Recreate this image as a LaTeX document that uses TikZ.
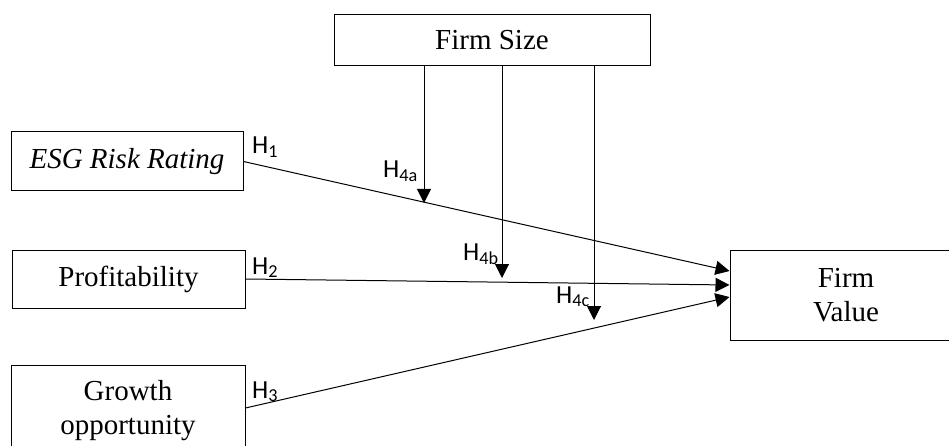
\documentclass[tikz,border=0pt]{standalone}
\usepackage{fontspec}
\setmainfont{Liberation Serif}
\newfontfamily\hfont{Carlito}
\usetikzlibrary{arrows.meta}
\begin{document}
\begin{tikzpicture}[x=1pt,y=-1pt,
  box/.style={draw,line width=1pt,inner sep=0pt,align=center,font=\fontsize{29}{34}\selectfont},
  link/.style={line width=1pt,-{Triangle[width=14pt,length=14pt]}},
  hlab/.style={anchor=base west,inner sep=0pt,font=\hfont\fontsize{26}{26}\selectfont}]
\useasboundingbox (0,0) rectangle (949,446);
\node[box,minimum width=232pt,minimum height=59pt] (esg) at (127,161.5) {\itshape ESG Risk Rating};
\node[box,minimum width=233pt,minimum height=58pt] (prof) at (128.5,279) {Profitability};
\node[box,minimum width=234pt,minimum height=92pt] (grow) at (128,411) {Growth\\opportunity};
\node[box,minimum width=316pt,minimum height=51pt] (fs) at (492,40.5) {Firm Size};
\node[box,minimum width=232pt,minimum height=90pt] (fv) at (846,295) {Firm\\Value};
\coordinate (t4a) at (424,203);
\coordinate (t4b) at (502,278);
\coordinate (t4c) at (594,320);
\draw[link] (esg.east) -- ([yshift=24pt]fv.west);
\draw[link] (prof.east) -- ([yshift=10pt]fv.west);
\draw[link] ([yshift=3pt]grow.east) -- ([yshift=-2pt]fv.west);
\draw[link] (t4a |- fs.south) -- (t4a);
\draw[link] (t4b |- fs.south) -- (t4b);
\draw[link] (t4c |- fs.south) -- (t4c);
\node[hlab] (h1) at (252,154) {H\textsubscript{1}};
\node[hlab] (h2) at (252,274) {H\textsubscript{2}};
\node[hlab] (h3) at (252,398) {H\textsubscript{3}};
\node[hlab] (h4a) at (383,178) {H\textsubscript{4a}};
\node[hlab] (h4b) at (463,260) {H\textsubscript{4b}};
\node[hlab] (h4c) at (556,303) {H\textsubscript{4c}};
\end{tikzpicture}
\end{document}
